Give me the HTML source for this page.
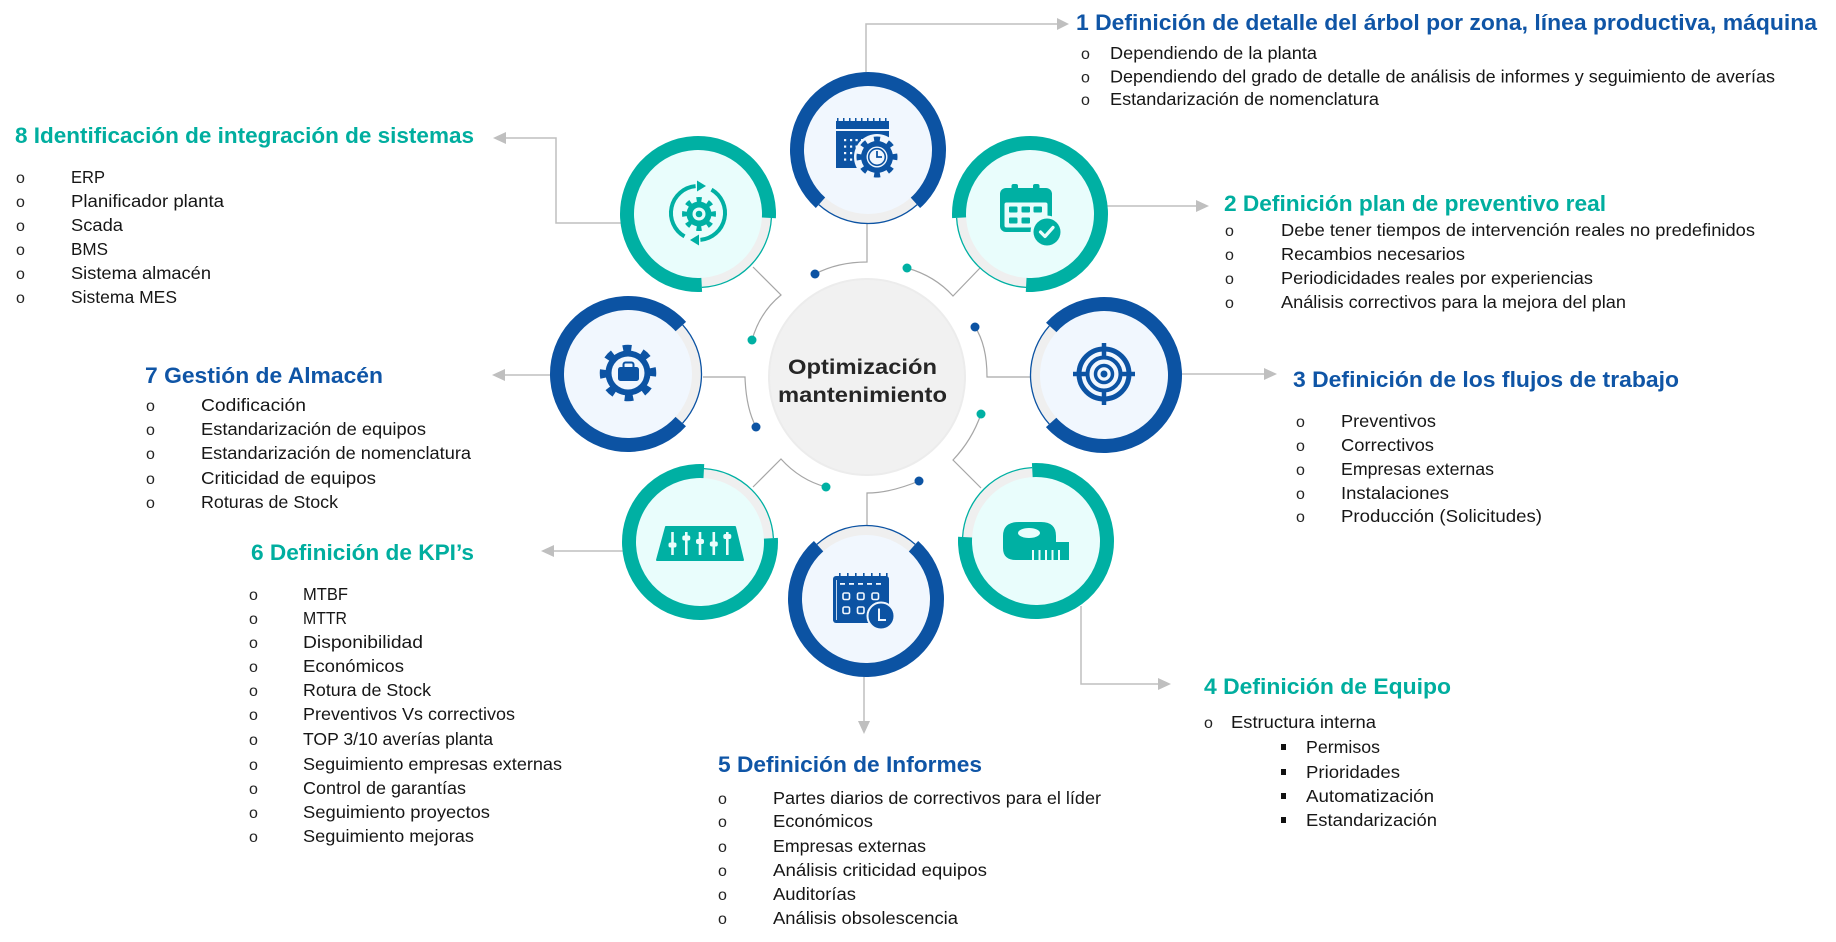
<!DOCTYPE html>
<html><head><meta charset="utf-8">
<style>
html,body{margin:0;padding:0;background:#fff;}
body{width:1836px;height:942px;overflow:hidden;}
svg{display:block;}
.hb{font-family:"Liberation Sans",sans-serif;font-weight:bold;font-size:22px;}
.blue{fill:#0f55a6;}
.teal{fill:#00ae9f;}
.li{font-family:"Liberation Sans",sans-serif;font-size:17.5px;fill:#161616;}
.bu{font-family:"Liberation Sans",sans-serif;font-size:16px;fill:#222;}
.ct{font-family:"Liberation Sans",sans-serif;font-weight:bold;font-size:21px;fill:#262626;}
</style></head>
<body>
<svg width="1836" height="942" viewBox="0 0 1836 942" xmlns="http://www.w3.org/2000/svg">

<!-- outer connectors with arrows -->
<g stroke="#bfbfbf" stroke-width="1.5" fill="none">
  <polyline points="866,72 866,24 1057,24"/>
  <line x1="1107" y1="206" x2="1196" y2="206"/>
  <line x1="1182" y1="374" x2="1264" y2="374"/>
  <polyline points="1081,606 1081,684 1158,684"/>
  <line x1="864" y1="676" x2="864" y2="721"/>
  <line x1="623" y1="551" x2="554" y2="551"/>
  <line x1="551" y1="375" x2="505" y2="375"/>
  <polyline points="621,223 556,223 556,138 506,138"/>
</g>
<g fill="#bfbfbf">
  <polygon points="1069,24 1057,18 1057,30"/>
  <polygon points="1209,206 1196,200 1196,212"/>
  <polygon points="1277,374 1264,368 1264,380"/>
  <polygon points="1171,684 1158,678 1158,690"/>
  <polygon points="864,734 858,721 870,721"/>
  <polygon points="541,551 554,545 554,557"/>
  <polygon points="492,375 505,369 505,381"/>
  <polygon points="493,138 506,132 506,144"/>
</g>

<!-- inner connectors -->
<g stroke="#a6a6a6" stroke-width="1.2" fill="none">
  <path d="M867 222 V262 Q838 262 815 274"/>
  <path d="M907 268 Q935 276 953 296 L980 268"/>
  <path d="M753 267 L781 295 Q760 312 752 340"/>
  <path d="M975 327 Q987 345 987 377 L1031 377"/>
  <path d="M703 377 H745 Q746 408 756 427"/>
  <path d="M981 414 Q972 440 953 460 L981 488"/>
  <path d="M753 487 L781 459 Q800 480 826 487"/>
  <path d="M919 481 Q890 493 867 493 V528"/>
</g>
<g>
  <circle cx="815" cy="274" r="4.5" fill="#0c53a3"/>
  <circle cx="907" cy="268" r="4.5" fill="#00b0a3"/>
  <circle cx="752" cy="340" r="4.5" fill="#00b0a3"/>
  <circle cx="975" cy="327" r="4.5" fill="#0c53a3"/>
  <circle cx="756" cy="427" r="4.5" fill="#0c53a3"/>
  <circle cx="981" cy="414" r="4.5" fill="#00b0a3"/>
  <circle cx="826" cy="487" r="4.5" fill="#00b0a3"/>
  <circle cx="919" cy="481" r="4.5" fill="#0c53a3"/>
</g>

<!-- center circle -->
<circle cx="867" cy="377" r="99" fill="#ececec"/>
<circle cx="867" cy="377" r="97" fill="#f1f1f1"/>
<text class="ct" x="788" y="374" textLength="149" lengthAdjust="spacingAndGlyphs">Optimización</text>
<text class="ct" x="778" y="402" textLength="169" lengthAdjust="spacingAndGlyphs">mantenimiento</text>

<!-- NODES: band, disc, thin arc, thick arc -->
<!-- C1 blue (868,150) theta 90 -->
<g>
  <circle cx="868" cy="150" r="73" fill="#efefef"/>
  <circle cx="868" cy="150" r="64" fill="#f1f7fe"/>
  <circle cx="868" cy="150" r="73.5" fill="none" stroke="#0c53a3" stroke-width="1.3" stroke-dasharray="107.75 354.07" transform="rotate(48 868 150)"/>
  <circle cx="868" cy="150" r="71" fill="none" stroke="#0c53a3" stroke-width="14" stroke-dasharray="342.02 104.09" transform="rotate(132 868 150)"/>
</g>
<!-- C2 teal (1030,214) theta 135 -->
<g>
  <circle cx="1030" cy="214" r="73" fill="#efefef"/>
  <circle cx="1030" cy="214" r="64" fill="#e9fdfc"/>
  <circle cx="1030" cy="214" r="73.5" fill="none" stroke="#00b0a3" stroke-width="1.3" stroke-dasharray="107.75 354.07" transform="rotate(93 1030 214)"/>
  <circle cx="1030" cy="214" r="71" fill="none" stroke="#00b0a3" stroke-width="14" stroke-dasharray="342.02 104.09" transform="rotate(177 1030 214)"/>
</g>
<!-- C3 blue (1104,375) theta 180 -->
<g>
  <circle cx="1104" cy="375" r="73" fill="#efefef"/>
  <circle cx="1104" cy="375" r="64" fill="#f1f7fe"/>
  <circle cx="1104" cy="375" r="73.5" fill="none" stroke="#0c53a3" stroke-width="1.3" stroke-dasharray="107.75 354.07" transform="rotate(138 1104 375)"/>
  <circle cx="1104" cy="375" r="71" fill="none" stroke="#0c53a3" stroke-width="14" stroke-dasharray="342.02 104.09" transform="rotate(222 1104 375)"/>
</g>
<!-- C4 teal (1036,541) theta 225 -->
<g>
  <circle cx="1036" cy="541" r="73" fill="#efefef"/>
  <circle cx="1036" cy="541" r="64" fill="#e9fdfc"/>
  <circle cx="1036" cy="541" r="73.5" fill="none" stroke="#00b0a3" stroke-width="1.3" stroke-dasharray="107.75 354.07" transform="rotate(183 1036 541)"/>
  <circle cx="1036" cy="541" r="71" fill="none" stroke="#00b0a3" stroke-width="14" stroke-dasharray="342.02 104.09" transform="rotate(267 1036 541)"/>
</g>
<!-- C5 blue (866,599) theta 270 -->
<g>
  <circle cx="866" cy="599" r="73" fill="#efefef"/>
  <circle cx="866" cy="599" r="64" fill="#f1f7fe"/>
  <circle cx="866" cy="599" r="73.5" fill="none" stroke="#0c53a3" stroke-width="1.3" stroke-dasharray="107.75 354.07" transform="rotate(228 866 599)"/>
  <circle cx="866" cy="599" r="71" fill="none" stroke="#0c53a3" stroke-width="14" stroke-dasharray="342.02 104.09" transform="rotate(312 866 599)"/>
</g>
<!-- C6 teal (700,542) theta 315 -->
<g>
  <circle cx="700" cy="542" r="73" fill="#efefef"/>
  <circle cx="700" cy="542" r="64" fill="#e9fdfc"/>
  <circle cx="700" cy="542" r="73.5" fill="none" stroke="#00b0a3" stroke-width="1.3" stroke-dasharray="107.75 354.07" transform="rotate(273 700 542)"/>
  <circle cx="700" cy="542" r="71" fill="none" stroke="#00b0a3" stroke-width="14" stroke-dasharray="342.02 104.09" transform="rotate(357 700 542)"/>
</g>
<!-- C7 blue (628,374) theta 0 -->
<g>
  <circle cx="628" cy="374" r="73" fill="#efefef"/>
  <circle cx="628" cy="374" r="64" fill="#f1f7fe"/>
  <circle cx="628" cy="374" r="73.5" fill="none" stroke="#0c53a3" stroke-width="1.3" stroke-dasharray="107.75 354.07" transform="rotate(-42 628 374)"/>
  <circle cx="628" cy="374" r="71" fill="none" stroke="#0c53a3" stroke-width="14" stroke-dasharray="342.02 104.09" transform="rotate(42 628 374)"/>
</g>
<!-- C8 teal (698,214) theta 45 -->
<g>
  <circle cx="698" cy="214" r="73" fill="#efefef"/>
  <circle cx="698" cy="214" r="64" fill="#e9fdfc"/>
  <circle cx="698" cy="214" r="73.5" fill="none" stroke="#00b0a3" stroke-width="1.3" stroke-dasharray="107.75 354.07" transform="rotate(3 698 214)"/>
  <circle cx="698" cy="214" r="71" fill="none" stroke="#00b0a3" stroke-width="14" stroke-dasharray="342.02 104.09" transform="rotate(87 698 214)"/>
</g>

<!-- ICONS -->
<!-- C1 calendar + gear clock -->
<g fill="#0c53a3">
  <rect x="836" y="121" width="53" height="8"/>
  <rect x="837" y="118" width="1.5" height="4"/><rect x="843" y="118" width="1.5" height="4"/><rect x="849" y="118" width="1.5" height="4"/><rect x="855" y="118" width="1.5" height="4"/><rect x="861" y="118" width="1.5" height="4"/><rect x="867" y="118" width="1.5" height="4"/><rect x="873" y="118" width="1.5" height="4"/><rect x="879" y="118" width="1.5" height="4"/><rect x="885" y="118" width="1.5" height="4"/>
  <rect x="836" y="131" width="53" height="37"/>
</g>
<g fill="#f1f7fe">
  <rect x="844" y="139" width="2.2" height="2.2"/><rect x="850" y="139" width="2.2" height="2.2"/><rect x="855.5" y="139" width="2.2" height="2.2"/><rect x="861" y="139" width="2.2" height="2.2"/>
  <rect x="844" y="145.5" width="2.2" height="2.2"/><rect x="850" y="145.5" width="2.2" height="2.2"/><rect x="855.5" y="145.5" width="2.2" height="2.2"/>
  <rect x="844" y="152" width="2.2" height="2.2"/><rect x="850" y="152" width="2.2" height="2.2"/>
  <rect x="844" y="158.5" width="2.2" height="2.2"/><rect x="850" y="158.5" width="2.2" height="2.2"/>
  <circle cx="877" cy="157" r="23"/>
</g>
<g>
  <circle cx="877" cy="157" r="16" fill="#0c53a3"/>
  <circle cx="877" cy="157" r="18" fill="none" stroke="#0c53a3" stroke-width="5" stroke-dasharray="6 8.14" transform="rotate(-10 877 157)"/>
  <circle cx="877" cy="157" r="10.5" fill="#f1f7fe"/>
  <circle cx="877" cy="157" r="8.3" fill="none" stroke="#0c53a3" stroke-width="1.6"/>
  <polyline points="877,151 877,157 882,157" fill="none" stroke="#0c53a3" stroke-width="1.8"/>
</g>

<!-- C2 calendar check -->
<g>
  <rect x="1011.5" y="184" width="6.5" height="9" rx="2" fill="#00b0a3"/>
  <rect x="1033" y="184" width="6.5" height="9" rx="2" fill="#00b0a3"/>
  <rect x="1000" y="188" width="52" height="44" rx="6" fill="#00b0a3"/>
  <rect x="1004.5" y="202.5" width="43" height="25" rx="2" fill="#e9fdfc"/>
  <rect x="1009" y="206.5" width="8.5" height="6" rx="1" fill="#00b0a3"/>
  <rect x="1021.5" y="206.5" width="8.5" height="6" rx="1" fill="#00b0a3"/>
  <rect x="1033.5" y="206.5" width="8.5" height="6" rx="1" fill="#00b0a3"/>
  <rect x="1009" y="217.5" width="8.5" height="6" rx="1" fill="#00b0a3"/>
  <rect x="1021.5" y="217.5" width="8.5" height="6" rx="1" fill="#00b0a3"/>
  <circle cx="1047" cy="232" r="16.5" fill="#e9fdfc"/>
  <circle cx="1047" cy="232" r="13.5" fill="#00b0a3"/>
  <polyline points="1040.5,232 1045,236.5 1053,227.5" fill="none" stroke="#e9fdfc" stroke-width="3.2" stroke-linecap="round" stroke-linejoin="round"/>
</g>

<!-- C3 target -->
<g fill="none" stroke="#0c53a3">
  <circle cx="1104" cy="374" r="25" stroke-width="5"/>
  <circle cx="1104" cy="374" r="16.5" stroke-width="4"/>
  <circle cx="1104" cy="374" r="8.5" stroke-width="3.5"/>
  <g stroke-width="4.5">
    <line x1="1104" y1="343" x2="1104" y2="358"/>
    <line x1="1104" y1="390" x2="1104" y2="405"/>
    <line x1="1073" y1="374" x2="1088" y2="374"/>
    <line x1="1120" y1="374" x2="1135" y2="374"/>
  </g>
</g>
<circle cx="1104" cy="374" r="3.5" fill="#0c53a3"/>

<!-- C4 tape measure -->
<g>
  <path d="M1003 536 Q1003 522 1019 522 L1041 522 Q1056 522 1056 536 V542 H1069 V560 H1016 Q1003 560 1003 548 Z" fill="#00b0a3"/>
  <ellipse cx="1029" cy="533" rx="11" ry="5" fill="#e9fdfc"/>
  <g stroke="#e9fdfc" stroke-width="2">
    <line x1="1033" y1="550" x2="1033" y2="561"/>
    <line x1="1039.5" y1="550" x2="1039.5" y2="561"/>
    <line x1="1046" y1="550" x2="1046" y2="561"/>
    <line x1="1052.5" y1="550" x2="1052.5" y2="561"/>
    <line x1="1059" y1="550" x2="1059" y2="561"/>
  </g>
</g>

<!-- C5 calendar clock -->
<g>
  <g fill="#0c53a3">
    <rect x="839" y="573" width="1.6" height="4"/><rect x="847" y="573" width="1.6" height="4"/><rect x="855" y="573" width="1.6" height="4"/><rect x="863" y="573" width="1.6" height="4"/><rect x="871" y="573" width="1.6" height="4"/><rect x="879" y="573" width="1.6" height="4"/><rect x="886" y="573" width="1.6" height="4"/>
    <rect x="833" y="576" width="56" height="47" rx="3"/>
  </g>
  <line x1="836.5" y1="580" x2="836.5" y2="620" stroke="#f1f7fe" stroke-width="0.8"/>
  <g fill="#f1f7fe">
    <rect x="840" y="583" width="5" height="1.8"/><rect x="849" y="583" width="5" height="1.8"/><rect x="858" y="583" width="5" height="1.8"/><rect x="867" y="583" width="5" height="1.8"/><rect x="876" y="583" width="5" height="1.8"/>
  </g>
  <g fill="none" stroke="#f1f7fe" stroke-width="1.6">
    <rect x="843" y="593" width="6.5" height="6.5" rx="1.5"/>
    <rect x="857.5" y="593" width="6.5" height="6.5" rx="1.5"/>
    <rect x="872" y="593" width="6.5" height="6.5" rx="1.5"/>
    <rect x="843" y="607" width="6.5" height="6.5" rx="1.5"/>
    <rect x="857.5" y="607" width="6.5" height="6.5" rx="1.5"/>
  </g>
  <circle cx="881" cy="616" r="13.5" fill="#0c53a3" stroke="#f1f7fe" stroke-width="2"/>
  <polyline points="879,608.5 879,620 886,620" fill="none" stroke="#f1f7fe" stroke-width="2"/>
</g>

<!-- C6 sliders -->
<g>
  <path d="M666 527 L735 527 L743 560 L657 560 Z" fill="#00b0a3" stroke="#00b0a3" stroke-width="2" stroke-linejoin="round"/>
  <g stroke="#e9fdfc" stroke-width="2.6">
    <line x1="672.5" y1="532" x2="672.5" y2="555"/>
    <line x1="686.3" y1="532" x2="686.3" y2="555"/>
    <line x1="700" y1="532" x2="700" y2="555"/>
    <line x1="713.8" y1="532" x2="713.8" y2="555"/>
    <line x1="727.3" y1="532" x2="727.3" y2="555"/>
  </g>
  <g fill="#e9fdfc">
    <rect x="668.5" y="542.5" width="8" height="5" rx="2"/>
    <rect x="682.3" y="535.5" width="8" height="5" rx="2"/>
    <rect x="696" y="539" width="8" height="5" rx="2"/>
    <rect x="709.8" y="541.5" width="8" height="5" rx="2"/>
    <rect x="723.3" y="534" width="8" height="5" rx="2"/>
  </g>
</g>

<!-- C7 gear briefcase -->
<g>
  <circle cx="628" cy="373" r="22.5" fill="#0c53a3"/>
  <circle cx="628" cy="373" r="25" fill="none" stroke="#0c53a3" stroke-width="6.5" stroke-dasharray="8.5 11.13" transform="rotate(-12 628 373)"/>
  <circle cx="628" cy="373" r="16.5" fill="#f1f7fe"/>
  <rect x="618" y="367" width="21" height="14" rx="2.5" fill="#0c53a3"/>
  <rect x="623.5" y="362.5" width="10" height="6" rx="2" fill="none" stroke="#0c53a3" stroke-width="2"/>
</g>

<!-- C8 gear with arrows -->
<g>
  <path d="M684.5 236.4 A27 27 0 0 1 695.6 186.1" fill="none" stroke="#00b0a3" stroke-width="4"/>
  <polygon points="706,186 697,180.5 697,191.5" fill="#00b0a3"/>
  <path d="M711.5 189.6 A27 27 0 0 1 700.4 239.9" fill="none" stroke="#00b0a3" stroke-width="4"/>
  <polygon points="690,240 699,234.5 699,245.5" fill="#00b0a3"/>
  <circle cx="699" cy="214" r="12.5" fill="#00b0a3"/>
  <circle cx="699" cy="214" r="14.5" fill="none" stroke="#00b0a3" stroke-width="5" stroke-dasharray="5 6.39" transform="rotate(-10 699 214)"/>
  <circle cx="699" cy="214" r="6.5" fill="#e9fdfc"/>
  <circle cx="699" cy="214" r="3.3" fill="#00b0a3"/>
</g>

<!-- HEADINGS -->
<text class="hb blue" x="1076" y="30" textLength="741" lengthAdjust="spacingAndGlyphs">1 Definición de detalle del árbol por zona, línea productiva, máquina</text>
<text class="hb teal" x="1224" y="211" textLength="382" lengthAdjust="spacingAndGlyphs">2 Definición plan de preventivo real</text>
<text class="hb blue" x="1293" y="387" textLength="386" lengthAdjust="spacingAndGlyphs">3 Definición de los flujos de trabajo</text>
<text class="hb teal" x="1204" y="694" textLength="247" lengthAdjust="spacingAndGlyphs">4 Definición de Equipo</text>
<text class="hb blue" x="718" y="772" textLength="264" lengthAdjust="spacingAndGlyphs">5 Definición de Informes</text>
<text class="hb teal" x="251" y="560" textLength="223" lengthAdjust="spacingAndGlyphs">6 Definición de KPI’s</text>
<text class="hb blue" x="145" y="383" textLength="238" lengthAdjust="spacingAndGlyphs">7 Gestión de Almacén</text>
<text class="hb teal" x="15" y="143" textLength="459" lengthAdjust="spacingAndGlyphs">8 Identificación de integración de sistemas</text>

<!-- LIST 1 -->
<text class="bu" x="1081" y="59">o</text>
<text class="bu" x="1081" y="82.5">o</text>
<text class="bu" x="1081" y="105">o</text>
<text class="li" x="1110" y="59" textLength="207" lengthAdjust="spacingAndGlyphs">Dependiendo de la planta</text>
<text class="li" x="1110" y="82.5" textLength="665" lengthAdjust="spacingAndGlyphs">Dependiendo del grado de detalle de análisis de informes y seguimiento de averías</text>
<text class="li" x="1110" y="105" textLength="269" lengthAdjust="spacingAndGlyphs">Estandarización de nomenclatura</text>

<!-- LIST 2 -->
<text class="bu" x="1225" y="236">o</text>
<text class="bu" x="1225" y="260">o</text>
<text class="bu" x="1225" y="284">o</text>
<text class="bu" x="1225" y="308">o</text>
<text class="li" x="1281" y="236" textLength="474" lengthAdjust="spacingAndGlyphs">Debe tener tiempos de intervención reales no predefinidos</text>
<text class="li" x="1281" y="260" textLength="184" lengthAdjust="spacingAndGlyphs">Recambios necesarios</text>
<text class="li" x="1281" y="284" textLength="312" lengthAdjust="spacingAndGlyphs">Periodicidades reales por experiencias</text>
<text class="li" x="1281" y="308" textLength="345" lengthAdjust="spacingAndGlyphs">Análisis correctivos para la mejora del plan</text>

<!-- LIST 3 -->
<text class="bu" x="1296" y="427">o</text>
<text class="bu" x="1296" y="451">o</text>
<text class="bu" x="1296" y="475">o</text>
<text class="bu" x="1296" y="499">o</text>
<text class="bu" x="1296" y="522">o</text>
<text class="li" x="1341" y="427" textLength="95" lengthAdjust="spacingAndGlyphs">Preventivos</text>
<text class="li" x="1341" y="451" textLength="93" lengthAdjust="spacingAndGlyphs">Correctivos</text>
<text class="li" x="1341" y="475" textLength="153" lengthAdjust="spacingAndGlyphs">Empresas externas</text>
<text class="li" x="1341" y="499" textLength="108" lengthAdjust="spacingAndGlyphs">Instalaciones</text>
<text class="li" x="1341" y="522" textLength="201" lengthAdjust="spacingAndGlyphs">Producción (Solicitudes)</text>

<!-- LIST 4 -->
<text class="bu" x="1204" y="728">o</text>
<text class="li" x="1231" y="728" textLength="145" lengthAdjust="spacingAndGlyphs">Estructura interna</text>
<g fill="#111">
  <rect x="1281" y="744" width="5" height="6"/>
  <rect x="1281" y="769" width="5" height="6"/>
  <rect x="1281" y="793" width="5" height="6"/>
  <rect x="1281" y="817" width="5" height="6"/>
</g>
<text class="li" x="1306" y="753" textLength="74" lengthAdjust="spacingAndGlyphs">Permisos</text>
<text class="li" x="1306" y="778" textLength="94" lengthAdjust="spacingAndGlyphs">Prioridades</text>
<text class="li" x="1306" y="802" textLength="128" lengthAdjust="spacingAndGlyphs">Automatización</text>
<text class="li" x="1306" y="826" textLength="131" lengthAdjust="spacingAndGlyphs">Estandarización</text>

<!-- LIST 5 -->
<text class="bu" x="718" y="804">o</text>
<text class="bu" x="718" y="827">o</text>
<text class="bu" x="718" y="852">o</text>
<text class="bu" x="718" y="876">o</text>
<text class="bu" x="718" y="900">o</text>
<text class="bu" x="718" y="924">o</text>
<text class="li" x="773" y="804" textLength="328" lengthAdjust="spacingAndGlyphs">Partes diarios de correctivos para el líder</text>
<text class="li" x="773" y="827" textLength="100" lengthAdjust="spacingAndGlyphs">Económicos</text>
<text class="li" x="773" y="852" textLength="153" lengthAdjust="spacingAndGlyphs">Empresas externas</text>
<text class="li" x="773" y="876" textLength="214" lengthAdjust="spacingAndGlyphs">Análisis criticidad equipos</text>
<text class="li" x="773" y="900" textLength="83" lengthAdjust="spacingAndGlyphs">Auditorías</text>
<text class="li" x="773" y="924" textLength="185" lengthAdjust="spacingAndGlyphs">Análisis obsolescencia</text>

<!-- LIST 6 -->
<text class="bu" x="249" y="600">o</text>
<text class="bu" x="249" y="624">o</text>
<text class="bu" x="249" y="648">o</text>
<text class="bu" x="249" y="672">o</text>
<text class="bu" x="249" y="696">o</text>
<text class="bu" x="249" y="720">o</text>
<text class="bu" x="249" y="745">o</text>
<text class="bu" x="249" y="770">o</text>
<text class="bu" x="249" y="794">o</text>
<text class="bu" x="249" y="818">o</text>
<text class="bu" x="249" y="842">o</text>
<text class="li" x="303" y="600" textLength="45" lengthAdjust="spacingAndGlyphs">MTBF</text>
<text class="li" x="303" y="624" textLength="44" lengthAdjust="spacingAndGlyphs">MTTR</text>
<text class="li" x="303" y="648" textLength="120" lengthAdjust="spacingAndGlyphs">Disponibilidad</text>
<text class="li" x="303" y="672" textLength="101" lengthAdjust="spacingAndGlyphs">Económicos</text>
<text class="li" x="303" y="696" textLength="128" lengthAdjust="spacingAndGlyphs">Rotura de Stock</text>
<text class="li" x="303" y="720" textLength="212" lengthAdjust="spacingAndGlyphs">Preventivos Vs correctivos</text>
<text class="li" x="303" y="745" textLength="190" lengthAdjust="spacingAndGlyphs">TOP 3/10 averías planta</text>
<text class="li" x="303" y="770" textLength="259" lengthAdjust="spacingAndGlyphs">Seguimiento empresas externas</text>
<text class="li" x="303" y="794" textLength="163" lengthAdjust="spacingAndGlyphs">Control de garantías</text>
<text class="li" x="303" y="818" textLength="187" lengthAdjust="spacingAndGlyphs">Seguimiento proyectos</text>
<text class="li" x="303" y="842" textLength="171" lengthAdjust="spacingAndGlyphs">Seguimiento mejoras</text>

<!-- LIST 7 -->
<text class="bu" x="146" y="411">o</text>
<text class="bu" x="146" y="435">o</text>
<text class="bu" x="146" y="459">o</text>
<text class="bu" x="146" y="484">o</text>
<text class="bu" x="146" y="508">o</text>
<text class="li" x="201" y="411" textLength="105" lengthAdjust="spacingAndGlyphs">Codificación</text>
<text class="li" x="201" y="435" textLength="225" lengthAdjust="spacingAndGlyphs">Estandarización de equipos</text>
<text class="li" x="201" y="459" textLength="270" lengthAdjust="spacingAndGlyphs">Estandarización de nomenclatura</text>
<text class="li" x="201" y="484" textLength="175" lengthAdjust="spacingAndGlyphs">Criticidad de equipos</text>
<text class="li" x="201" y="508" textLength="137" lengthAdjust="spacingAndGlyphs">Roturas de Stock</text>

<!-- LIST 8 -->
<text class="bu" x="16" y="183">o</text>
<text class="bu" x="16" y="207">o</text>
<text class="bu" x="16" y="231">o</text>
<text class="bu" x="16" y="255">o</text>
<text class="bu" x="16" y="279">o</text>
<text class="bu" x="16" y="303">o</text>
<text class="li" x="71" y="183" textLength="34" lengthAdjust="spacingAndGlyphs">ERP</text>
<text class="li" x="71" y="207" textLength="153" lengthAdjust="spacingAndGlyphs">Planificador planta</text>
<text class="li" x="71" y="231" textLength="52" lengthAdjust="spacingAndGlyphs">Scada</text>
<text class="li" x="71" y="255" textLength="37" lengthAdjust="spacingAndGlyphs">BMS</text>
<text class="li" x="71" y="279" textLength="140" lengthAdjust="spacingAndGlyphs">Sistema almacén</text>
<text class="li" x="71" y="303" textLength="106" lengthAdjust="spacingAndGlyphs">Sistema MES</text>

</svg>
</body></html>
